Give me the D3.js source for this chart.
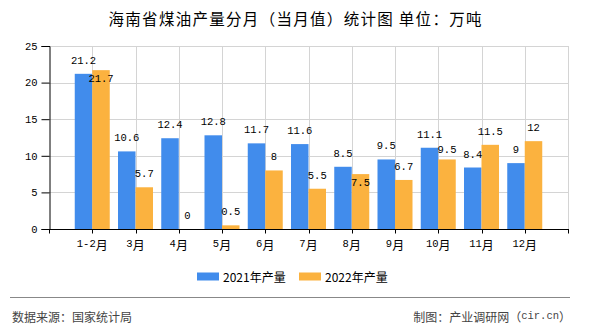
<!DOCTYPE html>
<html><head><meta charset="utf-8">
<script src="https://cdn.jsdelivr.net/npm/d3@7/dist/d3.min.js"></script>
<style>
html,body{margin:0;padding:0;background:#fff;}
svg{display:block;}
</style></head>
<body>
<svg id="chart" width="590" height="330"></svg>
<script>
const categories = ["1-2月","3月","4月","5月","6月","7月","8月","9月","10月","11月","12月"];
const series2021 = [21.2,10.6,12.4,12.8,11.7,11.6,8.5,9.5,11.1,8.4,9];
const series2022 = [21.7,5.7,0,0.5,8,5.5,7.5,6.7,9.5,11.5,12];
const seriesNames = ["2021年产量","2022年产量"];
const colors = ["#418cec","#fbb23f"];
const yTicks = [0,5,10,15,20,25];
const title = "海南省煤油产量分月（当月值）统计图 单位：万吨";
const sourceText = "数据来源：国家统计局";
const creditParts = ["制图：产业调研网（", "cir.cn", "）"];

const svg = d3.select("#chart");
const L = 49, R = 568, T = 46, B = 229;

const x = d3.scalePoint().domain(categories).range([L, R]).padding(1);
const y = d3.scaleLinear().domain([0, 25]).range([B, T]);
const inner = d3.scaleBand().domain(seriesNames).range([-17.5, 17.5]);

const monoFont = "'Liberation Mono','DejaVu Sans Mono',monospace";
const cjkFont = "'Noto Sans CJK SC','Noto Sans',sans-serif";

// Title
svg.append("text").attr("x", 295).attr("y", 18).attr("text-anchor","middle")
  .attr("dominant-baseline","central").attr("font-family", cjkFont)
  .attr("font-size", 15.5).attr("font-weight", 400).attr("fill","#000")
  .attr("textLength", 373).attr("lengthAdjust","spacing").text(title);

// grid
const grid = svg.append("g").attr("stroke","#d4d4d4").attr("stroke-width",1);
yTicks.filter(d=>d>0).forEach(v=>{
  grid.append("line").attr("x1",L).attr("x2",R).attr("y1",Math.round(y(v))+0.5).attr("y2",Math.round(y(v))+0.5);
});
categories.forEach(c=>{
  const xx = Math.round(x(c))+0.5;
  grid.append("line").attr("x1",xx).attr("x2",xx).attr("y1",T).attr("y2",B);
});
grid.append("line").attr("x1",R+0.5).attr("x2",R+0.5).attr("y1",T).attr("y2",B);

// bars
const allSeries = [series2021, series2022];
allSeries.forEach((vals, si)=>{
  svg.append("g").selectAll("rect").data(vals).join("rect")
    .attr("x",(d,i)=>x(categories[i])+inner(seriesNames[si]))
    .attr("width", inner.bandwidth())
    .attr("y", d=>y(d)).attr("height", d=>B - y(d))
    .attr("fill", colors[si]);
});

// axes
const yAxis = d3.axisLeft(y).tickValues(yTicks).tickSize(8).tickPadding(4).tickFormat(d3.format("d"));
const gy = svg.append("g").attr("transform",`translate(${L+0.5},0)`).call(yAxis);
gy.select(".domain").attr("stroke","#000");
gy.selectAll(".tick line").attr("stroke","#000");
gy.selectAll(".tick text").attr("font-family",monoFont).attr("font-size",10.5).attr("fill","#000");

const gx = svg.append("g").attr("transform",`translate(0,${B+0.5})`);
gx.append("line").attr("x1",L).attr("x2",R+1).attr("stroke","#000");
const tickXs = [L, ...categories.map(c=>x(c)), R];
gx.selectAll("line.t").data(tickXs).join("line").attr("class","t")
  .attr("x1",d=>Math.round(d)+0.5).attr("x2",d=>Math.round(d)+0.5).attr("y1",0).attr("y2",4).attr("stroke","#000");
const xl = gx.selectAll("text").data(categories).join("text")
  .attr("x", d=>x(d)).attr("y", 14).attr("text-anchor","middle").attr("dominant-baseline","central")
  .attr("fill","#000");
xl.each(function(d){
  const t = d3.select(this);
  const m = d.match(/^([^月]*)(月)$/);
  t.append("tspan").attr("font-family",monoFont).attr("font-size",10.5).text(m[1]);
  t.append("tspan").attr("font-family",cjkFont).attr("font-size",12).text(m[2]);
});

// value labels
const charW = 6.2, h = 15;
const blueLab = series2021.map((v,i)=>({x: x(categories[i])+inner(seriesNames[0])+inner.bandwidth()/2, y: y(v)-13, t: String(v)}));
const orangeLab = series2022.map((v,i)=>{
  const xx = x(categories[i])+inner(seriesNames[1])+inner.bandwidth()/2;
  let yy = y(v)-13;
  const b = blueLab[i];
  const w1 = b.t.length*charW, w2 = String(v).length*charW;
  if (Math.abs(xx-b.x) < (w1+w2)/2 && Math.abs(yy-b.y) < h) {
    const need = b.y + h - yy;
    if (need <= 4) yy += need; else yy = y(v) + 9;
  }
  return {x: xx, y: yy, t: String(v)};
});
svg.append("g").selectAll("text").data(blueLab.concat(orangeLab)).join("text")
  .attr("x",d=>d.x).attr("y",d=>d.y).attr("text-anchor","middle").attr("dominant-baseline","central")
  .attr("font-family",monoFont).attr("font-size",10.5).attr("fill","#000").text(d=>d.t);

// legend
const legX = [197, 299];
seriesNames.forEach((n,i)=>{
  svg.append("rect").attr("x",legX[i]).attr("y",272.5).attr("width",22).attr("height",8).attr("fill",colors[i]);
  svg.append("text").attr("x",legX[i]+26).attr("y",276.5).attr("dominant-baseline","central")
    .attr("font-family",cjkFont).attr("font-size",12).attr("fill","#000").text(n);
});

// footer
svg.append("line").attr("x1",10).attr("x2",570).attr("y1",297.5).attr("y2",297.5).attr("stroke","#888").attr("stroke-width",1.2);
svg.append("text").attr("x",12).attr("y",316).attr("dominant-baseline","central")
  .attr("font-family",cjkFont).attr("font-size",12).attr("fill","#444").text(sourceText);
const ct = svg.append("text").attr("x",571).attr("y",316).attr("text-anchor","end").attr("dominant-baseline","central")
  .attr("font-size",12).attr("fill","#444");
ct.append("tspan").attr("font-family",cjkFont).text(creditParts[0]);
ct.append("tspan").attr("font-family",monoFont).attr("font-size",10.5).text(creditParts[1]);
ct.append("tspan").attr("font-family",cjkFont).text(creditParts[2]);
</script>
</body></html>
